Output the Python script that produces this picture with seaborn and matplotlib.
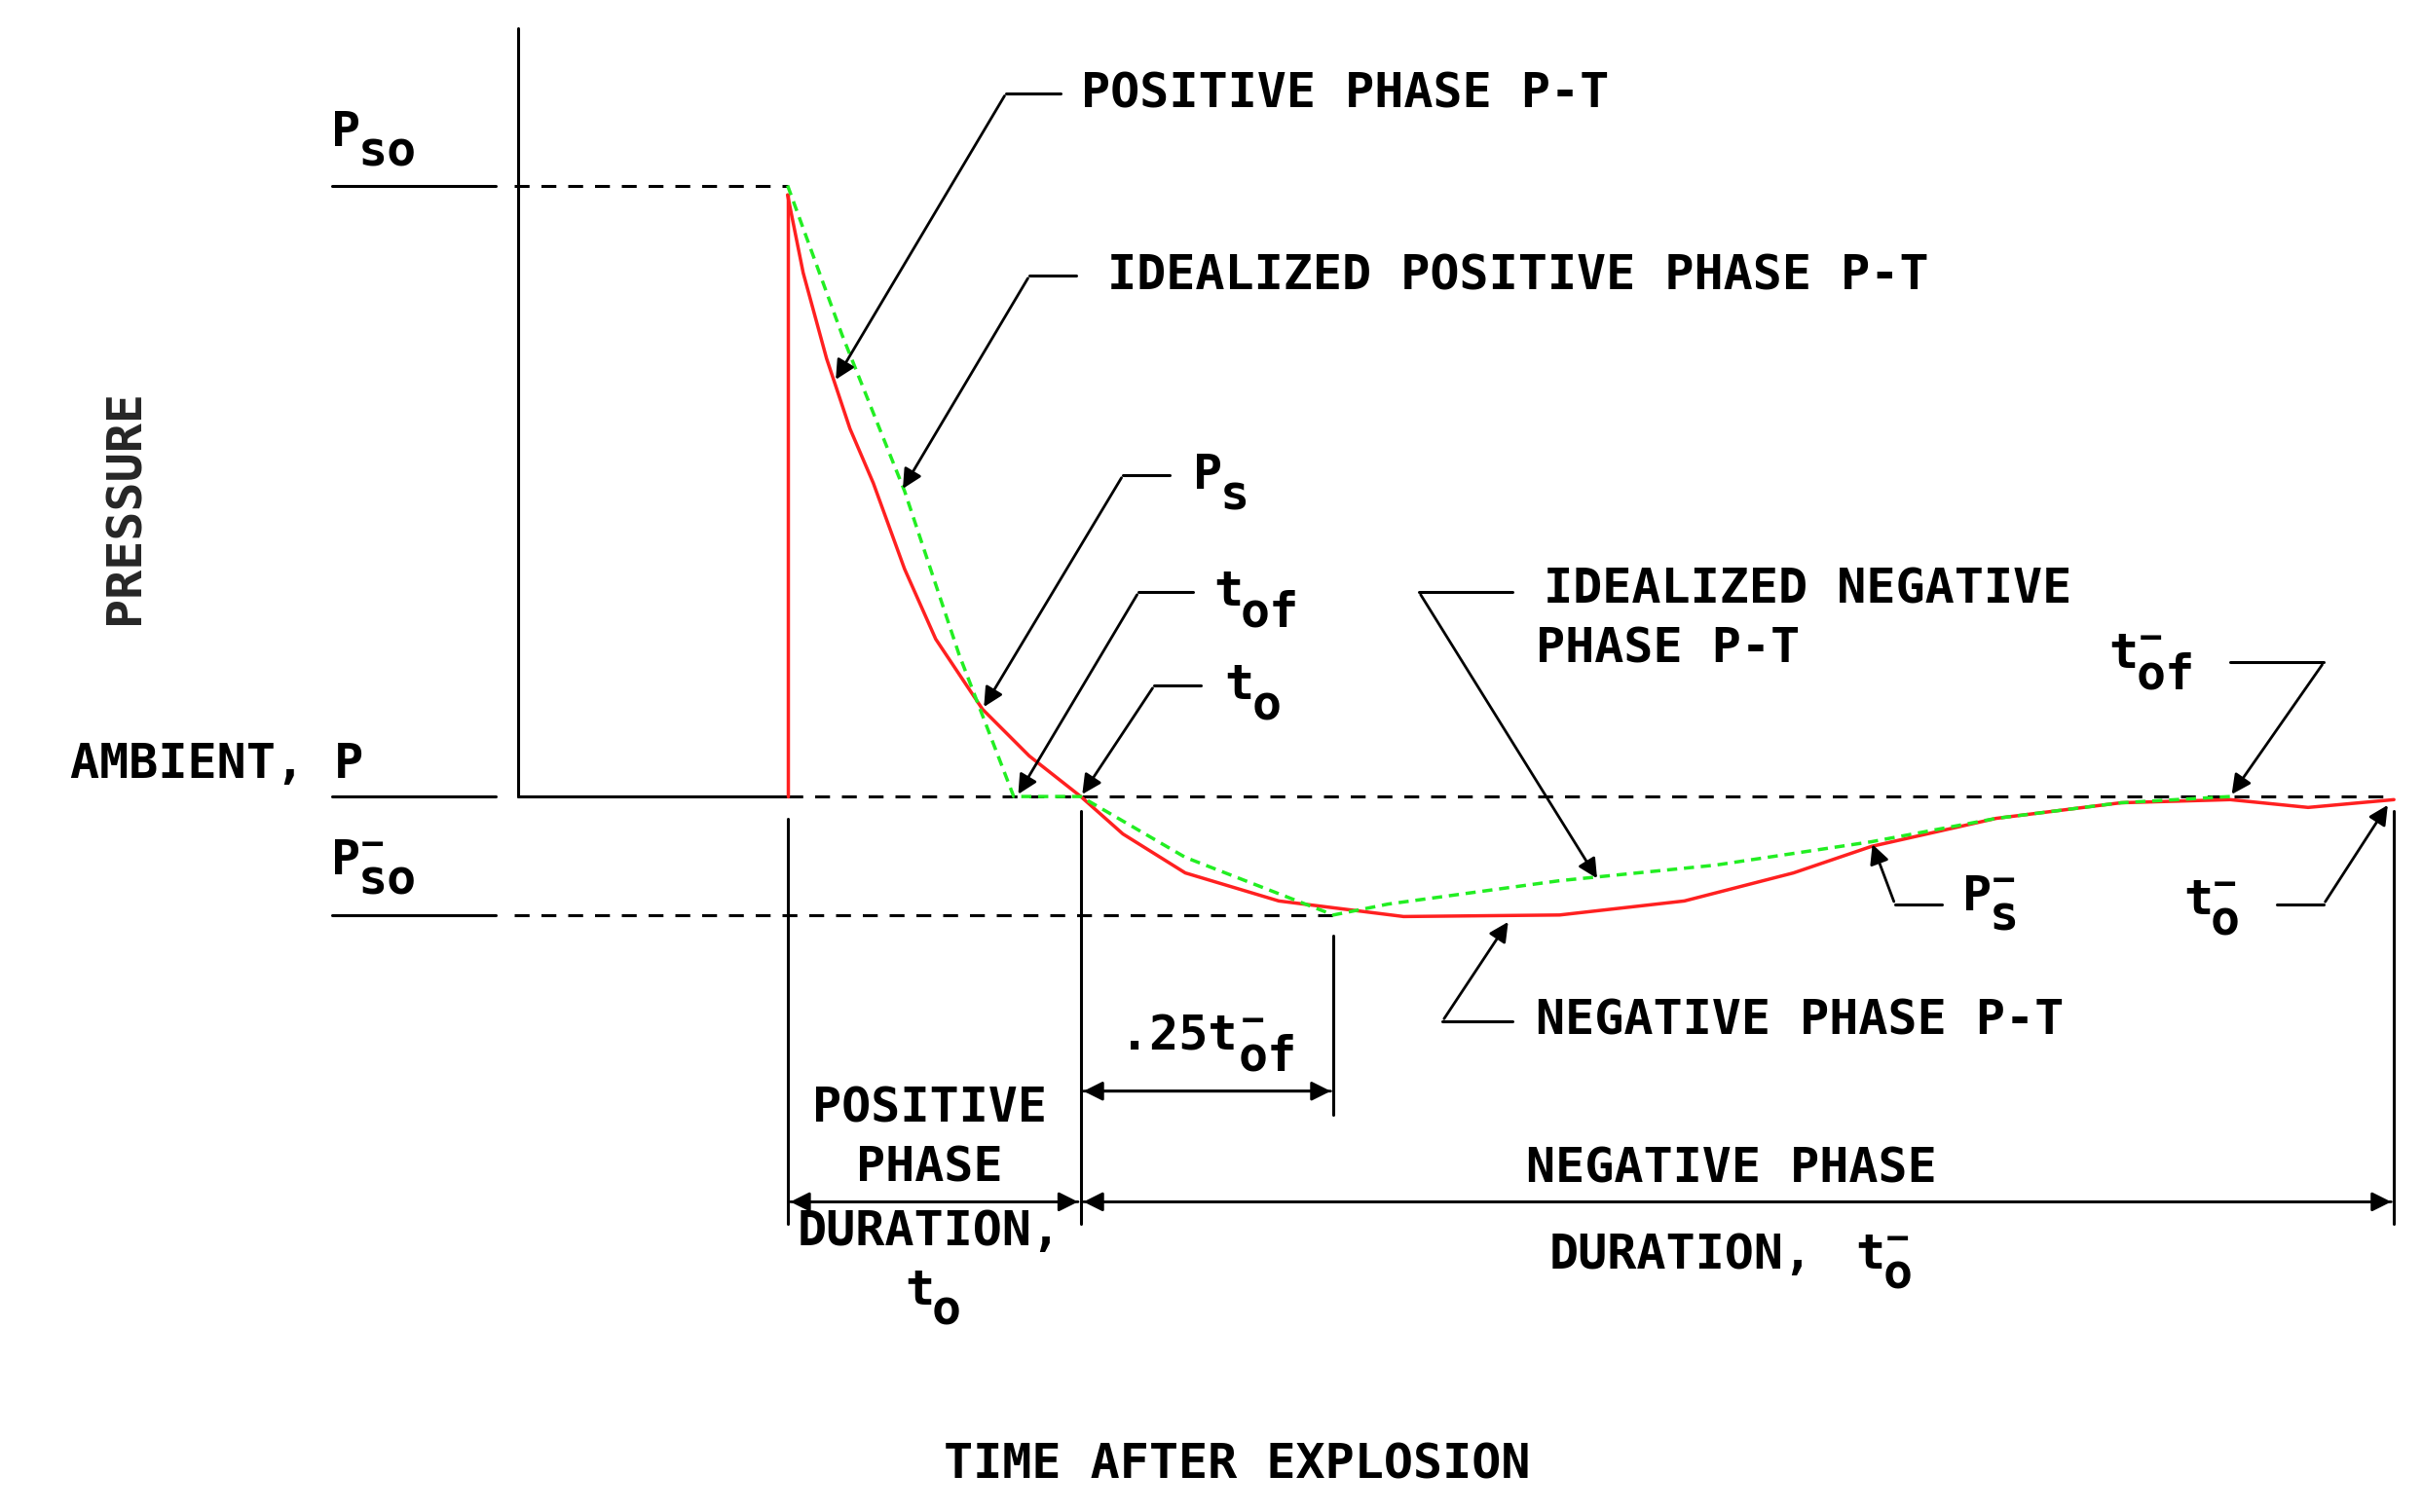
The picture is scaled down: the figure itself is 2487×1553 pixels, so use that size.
import matplotlib
matplotlib.use("Agg")
import matplotlib.pyplot as plt
import seaborn as sns

sns.set_style("white")
plt.rcParams['font.family'] = ['DejaVu Sans Mono']

# Data (display coordinates of the schematic, y downward)
real_x = [505, 515, 530, 545, 560, 580, 600, 630, 660, 693, 720, 760, 820, 900, 1000, 1080, 1150, 1200, 1280, 1360, 1430, 1480, 1535]
real_y = [125, 175, 230, 275, 310, 365, 410, 455, 485, 511, 535, 560, 578, 588, 587, 578, 560, 543, 525, 515, 513, 518, 513]
ideal_x = [505, 540, 580, 615, 650, 693, 760, 855, 890, 1000, 1100, 1200, 1280, 1360, 1430]
ideal_y = [119, 215, 315, 420, 511, 511, 550, 587, 580, 565, 555, 540, 525, 515, 511]

W, H = 1553, 970
fig = plt.figure(figsize=(24.87, 15.53), dpi=100)
ax = fig.add_axes([0, 0, 1, 1])
ax.set_xlim(0, W); ax.set_ylim(H, 0); ax.axis('off')

k = dict(color='black', lw=2.2)
ax.plot([332, 332], [18, 511], **k)
ax.plot([332, 505], [511, 511], **k)
for y in (119, 511, 587):
    ax.plot([213, 318], [y, y], **k)
ax.plot([330, 505], [119, 119], ls=(0, (5, 4)), **k)
ax.plot([505, 1535], [511, 511], ls=(0, (5, 4)), **k)
ax.plot([330, 855], [587, 587], ls=(0, (5, 4)), **k)
for x, y0, y1 in [(505, 525, 785), (693, 520, 785), (855, 600, 715), (1535, 520, 785)]:
    ax.plot([x, x], [y0, y1], **k)

ax.plot([505, 505], [511, 125], color='#ff2020', lw=2.5)
sns.lineplot(x=real_x, y=real_y, ax=ax, color='#ff2020', lw=2.5, sort=False, estimator=None)
sns.lineplot(x=ideal_x, y=ideal_y, ax=ax, color='#22ee22', lw=2.5, sort=False, estimator=None, linestyle=(0, (3, 2)))

ap = dict(arrowstyle='-|>', color='black', lw=2, mutation_scale=30)
def dim(x0, x1, y):
    ax.annotate('', xy=(x0, y), xytext=(x1, y), arrowprops=ap)
    ax.annotate('', xy=(x1, y), xytext=(x0, y), arrowprops=ap)
dim(693, 855, 700); dim(505, 693, 771); dim(693, 1535, 771)

def leader(pts):
    xs = [p[0] for p in pts]; ys = [p[1] for p in pts]
    ax.plot(xs[:-1], ys[:-1], **k)
    ax.annotate('', xy=pts[-1], xytext=pts[-2], arrowprops=ap)
leader([(680, 60), (645, 60), (535, 245)])
leader([(690, 177), (660, 177), (578, 315)])
leader([(750, 305), (720, 305), (630, 455)])
leader([(765, 380), (730, 380), (652, 511)])
leader([(770, 440), (740, 440), (693, 511)])
leader([(970, 380), (910, 380), (1025, 565)])
leader([(1430, 425), (1490, 425), (1430, 511)])
leader([(1245, 580), (1215, 580), (1200, 540)])
leader([(1460, 580), (1490, 580), (1532, 515)])
leader([(970, 655), (925, 655), (968, 590)])

FS = 36
CW = 19.5
def T(x, y, s, ha='left', fs=FS, **kw):
    ax.text(x, y, s, ha=ha, va='center', fontsize=fs, fontweight='bold', color='black', **kw)
def sub(x, y, main, s, bar=False):
    T(x, y, main)
    T(x + CW * len(main) - 2, y + 13, s)
    if bar:
        T(x + CW * len(main), y - 10, '−', fs=FS - 8)

T(693, 60, 'POSITIVE PHASE P-T')
T(710, 177, 'IDEALIZED POSITIVE PHASE P-T')
T(990, 378, 'IDEALIZED NEGATIVE')
T(985, 416, 'PHASE P-T')
T(985, 655, 'NEGATIVE PHASE P-T')
T(45, 490, 'AMBIENT, P')
sub(212, 85, 'P', 'so')
sub(212, 552, 'P', 'so', bar=True)
sub(765, 305, 'P', 's')
sub(778, 380, 't', 'of')
sub(785, 440, 't', 'o')
sub(1352, 420, 't', 'of', bar=True)
sub(1258, 575, 'P', 's', bar=True)
sub(1400, 578, 't', 'o', bar=True)
sub(718, 665, '.25t', 'of', bar=True)
T(596, 711, 'POSITIVE', ha='center'); T(596, 749, 'PHASE', ha='center')
T(596, 790, 'DURATION,', ha='center')
sub(580, 828, 't', 'o')
T(1110, 750, 'NEGATIVE PHASE', ha='center')
T(993, 805, 'DURATION,')
sub(1190, 805, 't', 'o', bar=True)
T(793, 940, 'TIME AFTER EXPLOSION', ha='center')
ax.text(80, 325, 'PRESSURE', rotation=90, ha='center', va='center', fontsize=FS, fontweight='bold')

fig.savefig('out.png', dpi=100)
